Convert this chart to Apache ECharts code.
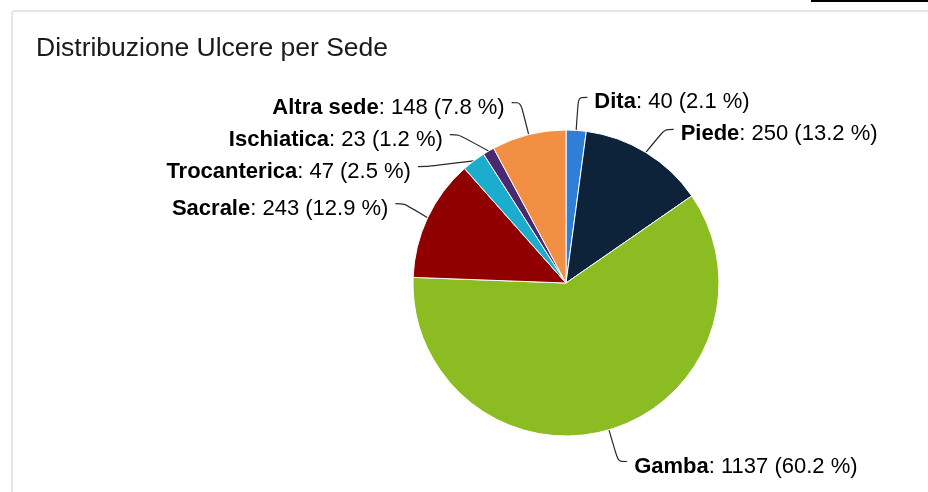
<!DOCTYPE html>
<html>
<head>
<meta charset="utf-8">
<script src="https://cdn.jsdelivr.net/npm/echarts@6/dist/echarts.min.js"></script>
<style>
  html, body { margin: 0; padding: 0; background: #fff; }
  #main { width: 928px; height: 492px; }
</style>
</head>
<body>
<div id="main"></div>
<script>
// Ulcer distribution by body site
var titleText = 'Distribuzione Ulcere per Sede';
var sites = ['Dita', 'Piede', 'Gamba', 'Sacrale', 'Trocanterica', 'Ischiatica', 'Altra sede'];
var counts = [40, 250, 1137, 243, 47, 23, 148];
var palette = ['#2f7ed8', '#0d233a', '#8bbc21', '#910000', '#1aadce', '#492970', '#f28f43'];

var total = counts.reduce(function (a, b) { return a + b; }, 0);
var FONT = 'Liberation Sans, Arial, sans-serif';

var chart = echarts.init(document.getElementById('main'), null, { renderer: 'canvas' });

chart.setOption({
  animation: false,
  title: {
    text: titleText,
    left: 31,
    top: 30,
    textStyle: {
      fontFamily: FONT,
      fontSize: 26.5,
      fontWeight: 'normal',
      color: '#1a1a1a'
    }
  },
  graphic: [
    {
      type: 'rect',
      shape: { x: 12, y: 11, width: 1000, height: 1000, r: 3 },
      style: { fill: 'none', stroke: '#e6e6e6', lineWidth: 2 },
      silent: true
    },
    {
      type: 'rect',
      shape: { x: 811, y: 0, width: 117, height: 2 },
      style: { fill: '#000' },
      silent: true
    }
  ],
  series: [{
    type: 'pie',
    center: [566, 283],
    radius: 153,
    startAngle: 90,
    clockwise: true,
    itemStyle: { borderColor: '#ffffff', borderWidth: 1 },
    label: {
      show: true,
      position: 'outside',
      fontFamily: FONT,
      fontSize: 22,
      lineHeight: 18,
      padding: [10, 0, 0, 0],
      color: '#000',
      distanceToLabelLine: 7,
      formatter: function (p) {
        var pct = (p.value / total * 100).toFixed(1);
        return '{b|' + p.name + '}: ' + p.value + ' (' + pct + ' %)';
      },
      rich: {
        b: { fontWeight: 'bold', fontSize: 22, lineHeight: 18, fontFamily: FONT, color: '#000' }
      }
    },
    labelLine: {
      show: true,
      length: 33,
      length2: 9,
      smooth: 0.3,
      lineStyle: { color: '#2a2a2a', width: 1.2 }
    },
    data: sites.map(function (name, i) {
      return { name: name, value: counts[i], itemStyle: { color: palette[i] } };
    })
  }]
});
</script>
</body>
</html>
